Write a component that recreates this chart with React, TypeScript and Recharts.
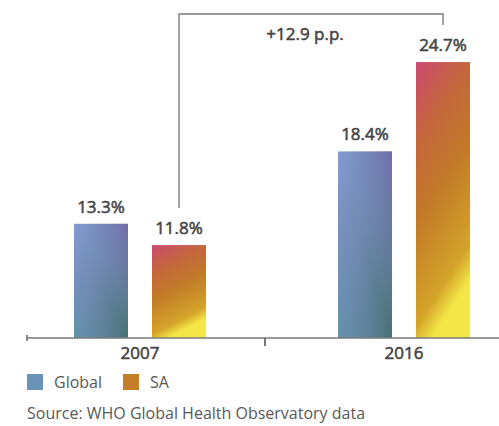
import React from 'react';
import { BarChart, Bar, XAxis, YAxis, LabelList } from 'recharts';

// ---- data ----
const categories: string[] = ['2007', '2016'];
const globalValues: number[] = [13.3, 18.4];
const saValues: number[] = [11.8, 24.7];
const seriesNames: string[] = ['Global', 'SA'];
const sourceText = 'Source: WHO Global Health Observatory data';

const data = categories.map((c, i) => ({ year: c, global: globalValues[i], sa: saValues[i] }));
const diff = (saValues[1] - saValues[0]).toFixed(1);

// ---- layout / style ----
const PAGE_W = 499;
const PAGE_H = 426;
const PAD = 8;
const CHART_W = 528;
const CHART_H = 360;
const MARGIN = { top: 20, right: 0, bottom: 0, left: 19 };
const BAND = CHART_W / categories.length;
const FONT = '"Open Sans", "DejaVu Sans", sans-serif';
const TEXT = '#454545';
const SOFT_TEXT = '#585858';
const BRACKET = '#9a9a9a';
const BRACKET_TOP = 6;
const Y_DOMAIN: [number, number] = [5.25, 27.1];
const legendColors = ['#6b93b8', '#c47e2a'];

// semibold look: regular weight with a thin same-colour stroke
const labelStyle = {
  fill: TEXT,
  stroke: TEXT,
  strokeWidth: 0.55,
  fontSize: 17,
  fontWeight: 400,
  fontFamily: FONT,
} as const;

const GlobalShape = (p: any) => {
  const { x, y, width, height } = p;
  return (
    <g>
      <rect x={x} y={y} width={width} height={height} fill="url(#gDiag)" />
      <rect x={x} y={y} width={width} height={height} fill="url(#gAnti)" />
    </g>
  );
};

const SaShape = (p: any) => {
  const { x, y, width, height } = p;
  return <rect x={x} y={y} width={width} height={height} fill="url(#saGrad)" />;
};

const getBox = (p: any) => {
  const vb = p.viewBox || {};
  return {
    x: p.x ?? vb.x,
    y: p.y ?? vb.y,
    width: p.width ?? vb.width,
  };
};

const ValueLabel = (p: any) => {
  const { x, y, width } = getBox(p);
  return (
    <text x={x + width / 2} y={y - 11} textAnchor="middle" {...labelStyle}>
      {Number(p.value).toFixed(1)}%
    </text>
  );
};

const SaLabel = (p: any) => {
  const { x, y, width } = getBox(p);
  const cx = x + width / 2;
  return (
    <g>
      <text x={cx} y={y - 11} textAnchor="middle" {...labelStyle}>
        {Number(p.value).toFixed(1)}%
      </text>
      <line x1={cx} x2={cx} y1={BRACKET_TOP} y2={y - 37} stroke={BRACKET} strokeWidth={1.8} />
      {p.index === 0 && (
        <g>
          <line x1={cx - 0.9} x2={cx + BAND + 0.9} y1={BRACKET_TOP} y2={BRACKET_TOP} stroke={BRACKET} strokeWidth={1.8} />
          <text x={cx + BAND / 2 - 6} y={BRACKET_TOP + 26} textAnchor="middle" {...labelStyle}>
            +{diff} p.p.
          </text>
        </g>
      )}
    </g>
  );
};

const YearTick = (p: any) => {
  const { x, y, payload, index } = p;
  const tickX = index === 0 ? MARGIN.left : x - BAND / 2 - 7;
  return (
    <g>
      {index === 0 ? (
        <line x1={tickX} x2={tickX} y1={y - 3} y2={y + 3} stroke="#666" strokeWidth={1.5} />
      ) : (
        <line x1={tickX} x2={tickX} y1={y} y2={y + 8} stroke="#777" strokeWidth={2} />
      )}
      <text x={x} y={y + 21} textAnchor="middle" {...labelStyle}>
        {payload.value}
      </text>
    </g>
  );
};

export default function App() {
  return (
    <div style={{ position: 'relative', width: PAGE_W, height: PAGE_H, overflow: 'hidden', fontFamily: FONT, background: '#fff' }}>
      <style>{'html,body{margin:0;padding:0;}'}</style>
      <svg width={0} height={0} style={{ position: 'absolute' }}>
        <defs>
          <linearGradient id="gDiag" x1="0" y1="0" x2="1" y2="1">
            <stop offset="0" stopColor="#829cd2" />
            <stop offset="0.5" stopColor="#6c86aa" />
            <stop offset="1" stopColor="#467274" />
          </linearGradient>
          <linearGradient id="gAnti" x1="1" y1="0" x2="0" y2="1">
            <stop offset="0" stopColor="#7460a8" stopOpacity={0.65} />
            <stop offset="0.5" stopColor="#7a8cc0" stopOpacity={0} />
            <stop offset="1" stopColor="#5a9eae" stopOpacity={0.6} />
          </linearGradient>
          <linearGradient id="saGrad" x1="0" y1="0" x2="0.3" y2="1">
            <stop offset="0" stopColor="#cc4a72" />
            <stop offset="0.27" stopColor="#c4663e" />
            <stop offset="0.55" stopColor="#c27b28" />
            <stop offset="0.88" stopColor="#d4a42a" />
            <stop offset="1" stopColor="#f3e646" />
          </linearGradient>
        </defs>
      </svg>
      <div style={{ position: 'absolute', left: PAD, top: PAD, width: PAGE_W - PAD, height: CHART_H, overflow: 'hidden' }}>
        <BarChart width={CHART_W} height={CHART_H} data={data} margin={MARGIN} barGap={24}>
          <XAxis
            dataKey="year"
            type="category"
            padding={{ left: -MARGIN.left, right: 0 }}
            axisLine={{ stroke: '#7a7a7a', strokeWidth: 1.6 }}
            tickLine={false}
            tickSize={0}
            tickMargin={0}
            height={30}
            interval={0}
            tick={<YearTick />}
          />
          <YAxis hide type="number" domain={Y_DOMAIN} />
          <Bar dataKey="global" name={seriesNames[0]} barSize={54} isAnimationActive={false} shape={<GlobalShape />}>
            <LabelList dataKey="global" content={<ValueLabel />} />
          </Bar>
          <Bar dataKey="sa" name={seriesNames[1]} barSize={54} isAnimationActive={false} shape={<SaShape />}>
            <LabelList dataKey="sa" content={<SaLabel />} />
          </Bar>
        </BarChart>
      </div>
      <div style={{ position: 'absolute', left: PAD + 19, top: PAD + 366, height: 16, display: 'flex', alignItems: 'center' }}>
        {seriesNames.map((n, i) => (
          <div key={n} style={{ display: 'flex', alignItems: 'center', marginRight: 21 }}>
            <div style={{ width: 16, height: 16, background: legendColors[i], marginRight: 11 }} />
            <span style={{ fontSize: 16, lineHeight: '16px', color: SOFT_TEXT }}>{n}</span>
          </div>
        ))}
      </div>
      <div style={{ position: 'absolute', left: PAD + 19, top: PAD + 395, fontSize: 16, lineHeight: '20px', color: SOFT_TEXT, whiteSpace: 'nowrap' }}>
        {sourceText}
      </div>
    </div>
  );
}
